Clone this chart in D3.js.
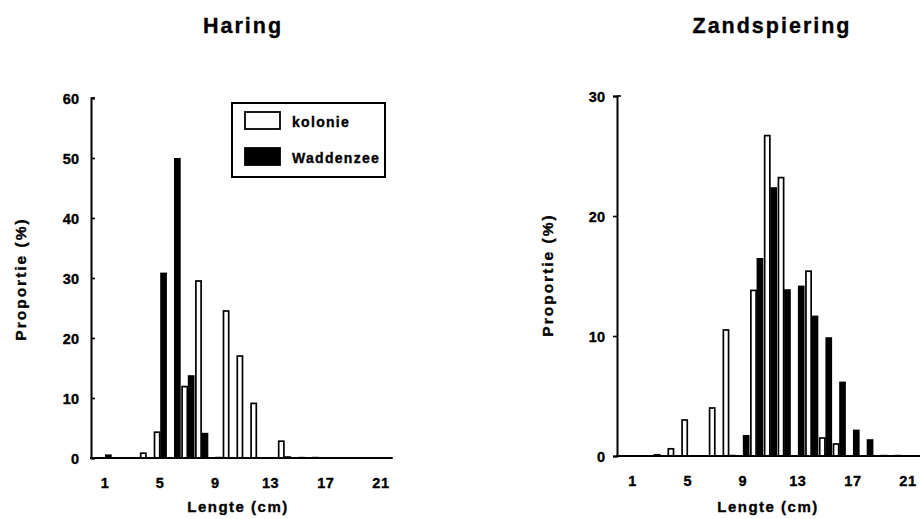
<!DOCTYPE html>
<html><head><meta charset="utf-8">
<script src="https://cdn.jsdelivr.net/npm/d3@7"></script>
<style>
html,body{margin:0;padding:0;background:#fff;}
text{font-family:"Liberation Sans",Arial,Helvetica,sans-serif;font-weight:bold;fill:#000;stroke:#000;stroke-width:0.35px;}
</style></head>
<body>
<svg id="c" width="920" height="519"></svg>
<script>
const lengths = [1,2,3,4,5,6,7,8,9,10,11,12,13,14,15,16,17,18,19,20,21];
const xTicks = [1,5,9,13,17,21];
const haringKolonie    = [0,0,0,0.8,4.3,0,11.9,29.5,0,24.5,17.0,9.1,0,2.8,0,0,0,0,0,0,0];
const haringWaddenzee  = [0.6,0,0,0,30.9,50.0,13.8,4.2,0.2,0,0,0,0,0.3,0.2,0.2,0,0.1,0,0,0];
const zandKolonie      = [0,0,0.1,0.6,3.0,0,4.0,10.5,0,13.8,26.7,23.2,0,15.4,1.5,1.0,0,0,0,0,0];
const zandWaddenzee    = [0,0,0,0,0,0,0,0.1,1.75,16.5,22.4,13.9,14.2,11.7,9.9,6.2,2.2,1.4,0.1,0.1,0];
const haringYTicks = [0,10,20,30,40,50,60];
const zandYTicks = [0,10,20,30];
const titles = ["Haring","Zandspiering"];
const xLabel = "Lengte (cm)";
const yLabel = "Proportie (%)";
const legendLabels = ["kolonie","Waddenzee"];

const svg = d3.select("#c");

function panel(cfg){
  const g = svg.append("g");
  const x = d3.scaleLinear().domain([1,21]).range(cfg.xr);
  const y = d3.scaleLinear().domain([0,cfg.ymax]).range([cfg.y0, cfg.y1]);
  const step = x(2)-x(1);
  const bw = step*0.45;

  const data = lengths.map((l,i)=>({l, k:cfg.kol[i], w:cfg.wad[i]}));
  g.selectAll("rect.k").data(data.filter(d=>d.k>0)).join("rect")
    .attr("x", d=>x(d.l)-bw+0.5).attr("width", bw-1)
    .attr("y", d=>y(d.k)).attr("height", d=>y(0)-y(d.k))
    .attr("fill","#fff").attr("stroke","#000").attr("stroke-width",1.7);
  g.selectAll("rect.w").data(data.filter(d=>d.w>0)).join("rect")
    .attr("x", d=>x(d.l)).attr("width", bw+0.5)
    .attr("y", d=>y(d.w)).attr("height", d=>Math.max(1, y(0)-y(d.w)))
    .attr("fill","#000");

  const ya = d3.axisLeft(y).tickValues(cfg.yticks).tickSizeOuter(0)
    .tickSize(cfg.tickIn ? -4 : 4).tickPadding(cfg.tickIn ? 12 : 8);
  const yg = g.append("g").attr("transform",`translate(${cfg.ax},0)`).call(ya);
  yg.attr("font-size",null).attr("font-family",null);
  yg.select(".domain").attr("stroke-width",2);
  yg.selectAll(".tick line").attr("stroke-width",1.6);
  yg.selectAll("text").style("font-size","14.5px").attr("dy","0.36em");
  g.append("line").attr("x1",cfg.ax).attr("x2",cfg.ax+4).attr("y1",y(cfg.ymax)).attr("y2",y(cfg.ymax))
    .attr("stroke","#000").attr("stroke-width",1.6);

  g.append("line").attr("x1",cfg.ax-1).attr("x2",x(cfg.xEnd)).attr("y1",y(0)).attr("y2",y(0))
    .attr("stroke","#000").attr("stroke-width",2.2);
  g.selectAll("text.xt").data(xTicks).join("text")
    .attr("x",d=>x(d)).attr("y",y(0)+30).attr("text-anchor","middle")
    .style("font-size","14.5px").style("letter-spacing","0.6px").text(d=>d);

  g.append("text").attr("x",cfg.tx).attr("y",33).attr("text-anchor","middle")
    .style("font-size","21.5px").style("letter-spacing","2px").text(cfg.title);
  g.append("text").attr("x",cfg.lx).attr("y",512).attr("text-anchor","middle")
    .style("font-size","15px").style("letter-spacing","1.5px").text(xLabel);
  g.append("text").attr("transform",`translate(${cfg.ylx},${cfg.yly}) rotate(-90)`)
    .attr("text-anchor","middle").style("font-size","15.5px").style("letter-spacing","2px").text(yLabel);
  return {x,y};
}

panel({xr:[105,381], y0:458, y1:98, ymax:60, ax:91, kol:haringKolonie, wad:haringWaddenzee,
  yticks:haringYTicks, tickIn:true, xEnd:21.85, title:titles[0], tx:243, lx:238, ylx:26, yly:279});
panel({xr:[632.7,908], y0:456, y1:96, ymax:30, ax:617, kol:zandKolonie, wad:zandWaddenzee,
  yticks:zandYTicks, tickIn:false, xEnd:23, title:titles[1], tx:772, lx:768, ylx:553, yly:275});

const lg = svg.append("g");
lg.append("rect").attr("x",232).attr("y",103).attr("width",153).attr("height",74)
  .attr("fill","#fff").attr("stroke","#000").attr("stroke-width",2);
lg.selectAll("rect.sw").data(legendLabels).join("rect")
  .attr("x",245).attr("y",(d,i)=>112+i*36).attr("width",35).attr("height",17)
  .attr("fill",(d,i)=>i? "#000":"#fff").attr("stroke","#000").attr("stroke-width",1.8);
lg.selectAll("text.lt").data(legendLabels).join("text")
  .attr("x",292).attr("y",(d,i)=>127+i*36).style("font-size","14px")
  .style("letter-spacing","1.3px").text(d=>d);
</script>
</body></html>
